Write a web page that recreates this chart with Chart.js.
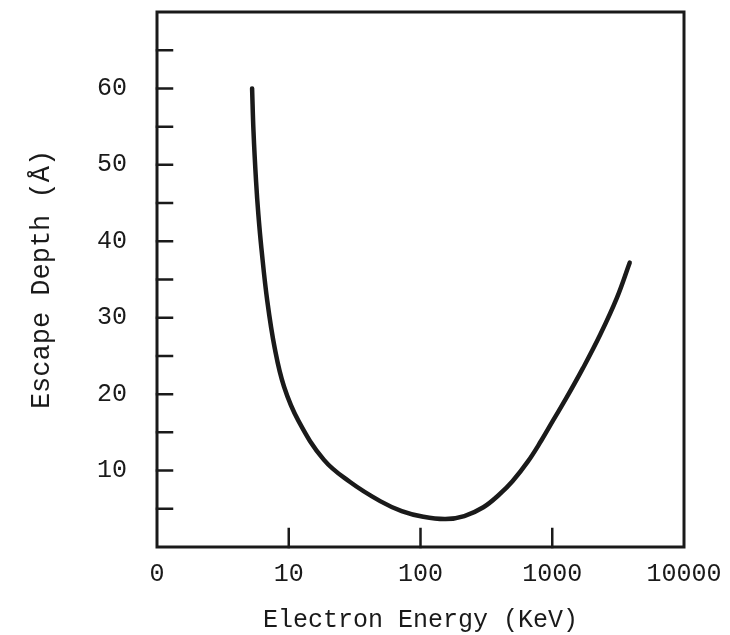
<!DOCTYPE html>
<html>
<head>
<meta charset="utf-8">
<script src="https://cdn.jsdelivr.net/npm/chart.js@4"></script>
<style>
  html, body { margin: 0; padding: 0; background: #fff; }
  #wrap { width: 730px; height: 635px; }
</style>
</head>
<body>
<div id="wrap"><canvas id="escapeChart"></canvas></div>
<script>
// Curve (energy in KeV, escape depth in Angstrom)
const energyKeV = [5.27, 5.40, 5.65, 5.88, 6.20, 6.87, 7.83, 9.2, 11.85, 18.5, 29.2, 49.4, 72, 105, 155, 215, 300, 398, 499, 654, 824, 1010, 1280, 1710, 2314, 3094, 3870];
const depthA = [60, 54.4, 47.8, 43.5, 39.1, 32.2, 26.0, 21.0, 16.5, 11.4, 8.5, 6.0, 4.7, 3.95, 3.65, 4.05, 5.2, 6.9, 8.6, 11.2, 13.9, 16.5, 19.5, 23.4, 27.8, 32.6, 37.2];

// Axis ticks
const xTicks = [1, 10, 100, 1000, 10000];
const xTickLabels = ["0", "10", "100", "1000", "10000"];
const yMinorTicks = [5, 10, 15, 20, 25, 30, 35, 40, 45, 50, 55, 60, 65];
const yLabelTicks = [10, 20, 30, 40, 50, 60];

const ink = "#1a1a1a";
const monoFont = "'Liberation Mono', 'DejaVu Sans Mono', monospace";

// draws the box and the inward tick marks
const frameTicks = {
  id: "frameTicks",
  afterDraw(chart) {
    const ctx = chart.ctx;
    const a = chart.chartArea;
    const xs = chart.scales.x;
    const ys = chart.scales.y;
    ctx.save();
    ctx.strokeStyle = ink;
    ctx.lineWidth = 3;
    ctx.lineCap = "square";
    ctx.strokeRect(a.left, a.top, a.right - a.left, a.bottom - a.top);
    ctx.lineWidth = 2.5;
    ctx.beginPath();
    yMinorTicks.forEach((v) => {
      const py = ys.getPixelForValue(v);
      ctx.moveTo(a.left, py);
      ctx.lineTo(a.left + 15, py);
    });
    [10, 100, 1000].forEach((v) => {
      const px = xs.getPixelForValue(v);
      ctx.moveTo(px, a.bottom);
      ctx.lineTo(px, a.bottom - 18);
    });
    ctx.stroke();
    ctx.restore();
  },
};

const ctx = document.getElementById("escapeChart").getContext("2d");
new Chart(ctx, {
  type: "line",
  data: {
    datasets: [
      {
        label: "Escape Depth",
        data: energyKeV.map((e, i) => ({ x: e, y: depthA[i] })),
        borderColor: ink,
        borderWidth: 4.5,
        borderCapStyle: "round",
        pointRadius: 0,
        fill: false,
        tension: 0.4,
      },
    ],
  },
  options: {
    responsive: true,
    maintainAspectRatio: false,
    animation: false,
    layout: {
      padding: { top: 12, right: 46, left: 10, bottom: 0 },
    },
    plugins: {
      legend: { display: false },
      tooltip: { enabled: false },
    },
    scales: {
      x: {
        type: "logarithmic",
        min: 1,
        max: 10000,
        afterBuildTicks: (scale) => {
          scale.ticks = xTicks.map((v) => ({ value: v }));
        },
        afterFit: (scale) => {
          scale.height = 88;
          scale.paddingLeft = 0;
          scale.paddingRight = 0;
        },
        grid: { display: false, drawTicks: false },
        border: { display: false },
        ticks: {
          color: ink,
          padding: 12,
          maxRotation: 0,
          autoSkip: false,
          font: { family: monoFont, size: 25 },
          callback: (v) => {
            const i = xTicks.indexOf(v);
            return i >= 0 ? xTickLabels[i] : "";
          },
        },
        title: {
          display: true,
          text: "Electron Energy (KeV)",
          color: ink,
          padding: { top: 14, bottom: 0 },
          font: { family: monoFont, size: 25 },
        },
      },
      y: {
        min: 0,
        max: 70,
        afterBuildTicks: (scale) => {
          scale.ticks = yLabelTicks.map((v) => ({ value: v }));
        },
        afterFit: (scale) => {
          scale.width = 147;
          scale.paddingTop = 0;
          scale.paddingBottom = 0;
        },
        grid: { display: false, drawTicks: false },
        border: { display: false },
        ticks: {
          color: ink,
          padding: 30,
          font: { family: monoFont, size: 25 },
        },
        title: {
          display: true,
          text: "Escape Depth (Å)",
          color: ink,
          padding: { top: 16, bottom: 0 },
          font: { family: monoFont, size: 27 },
        },
      },
    },
  },
  plugins: [frameTicks],
});
</script>
</body>
</html>
